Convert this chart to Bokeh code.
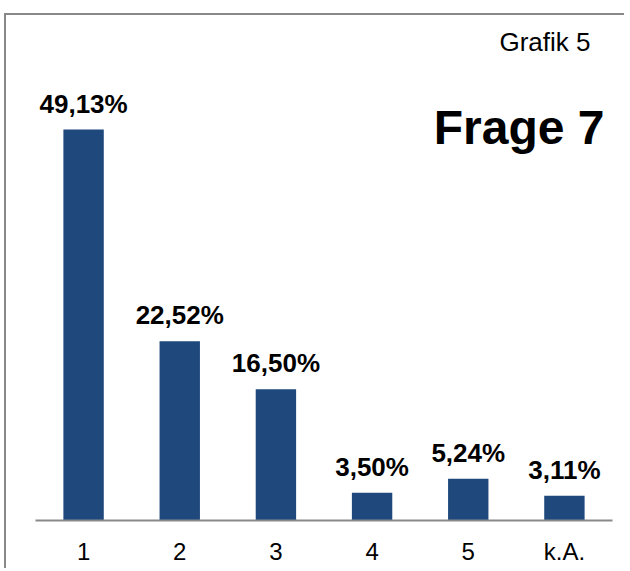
from bokeh.plotting import figure
from bokeh.models import ColumnDataSource, Range1d, FactorRange, Label
from bokeh.core.properties import value
from bokeh.embed import file_html
from bokeh.resources import INLINE

categories = ["1", "2", "3", "4", "5", "k.A."]
values = [49.13, 22.52, 16.50, 3.50, 5.24, 3.11]
value_labels = ["49,13%", "22,52%", "16,50%", "3,50%", "5,24%", "3,11%"]
title_text = "Frage 7"
subtitle_text = "Grafik 5"

FONT = "Liberation Sans"
BAR_COLOR = "#1F497D"
GRAY = "#898989"

src = ColumnDataSource(dict(cat=categories, val=values, lab=value_labels))

p = figure(
    width=620, height=555,
    x_range=FactorRange(*categories, range_padding=0),
    y_range=Range1d(0, 63.46),
    output_backend="svg", toolbar_location=None,
    min_border_left=29, min_border_right=14, min_border_top=0, min_border_bottom=50,
    styles={"border-top": "2px solid #888888", "border-left": "2px solid #888888",
            "margin-top": "13px", "margin-left": "4px"},
)
p.outline_line_color = None
p.xgrid.visible = False
p.ygrid.visible = False
p.yaxis.visible = False

p.vbar(x="cat", top="val", width=0.42, source=src, fill_color=BAR_COLOR, line_color=None)

p.text(x="cat", y="val", text="lab", source=src, text_align="center",
       text_baseline="alphabetic", y_offset=-26,
       text_font=value(FONT), text_font_size="26px", text_font_style="bold", text_color="black")

ax = p.xaxis[0]
ax.axis_line_color = GRAY
ax.axis_line_width = 2
ax.major_tick_line_color = None
ax.minor_tick_line_color = None
ax.major_tick_out = 0
ax.major_label_standoff = 17
ax.major_label_text_font = FONT
ax.major_label_text_font_size = "24px"
ax.major_label_text_color = "black"

p.add_layout(Label(x=5.917, y=49.39, text=title_text, text_align="right",
                   text_baseline="alphabetic", text_font=FONT, text_font_size="48px",
                   text_font_style="bold", text_color="black"))
p.add_layout(Label(x=5.771, y=60.07, text=subtitle_text, text_align="right",
                   text_baseline="alphabetic", text_font=FONT, text_font_size="26px",
                   text_color="black"))

open("out.html", "w").write(file_html(p, INLINE))
